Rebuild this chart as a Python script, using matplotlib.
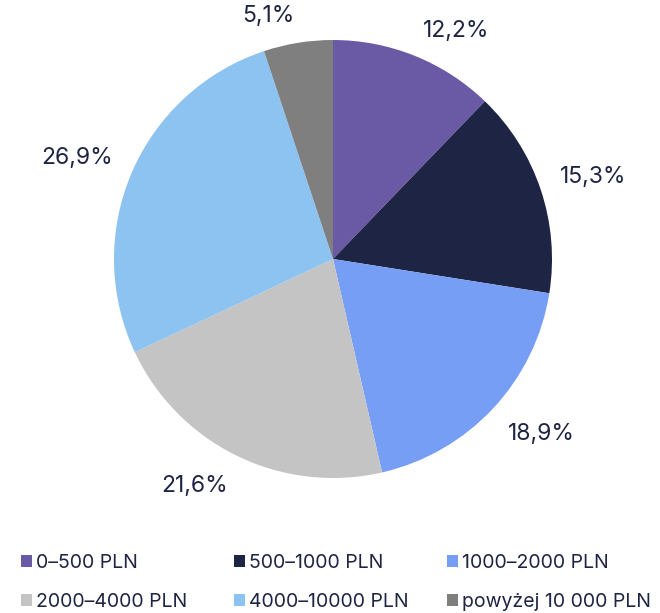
import numpy as np
import matplotlib.pyplot as plt
from matplotlib.patches import Patch

labels = ["0–500 PLN", "500–1000 PLN", "1000–2000 PLN", "2000–4000 PLN", "4000–10000 PLN", "powyżej 10 000 PLN"]
values = [12.2, 15.3, 18.9, 21.6, 26.9, 5.1]
value_labels = ["12,2%", "15,3%", "18,9%", "21,6%", "26,9%", "5,1%"]
colors = ["#6A5AA6", "#1E2443", "#779EF5", "#C4C4C4", "#8CC3F0", "#7F7F7F"]
text_color = "#1E2443"

plt.rcParams['font.family'] = ['Inter', 'DejaVu Sans']

fig = plt.figure(figsize=(6.6, 6.13), dpi=100)
cx, cy, r = 333 / 660, (613 - 259) / 613, 219
w = 2 * r / 660
h = 2 * r / 613
ax = fig.add_axes([cx - w / 2, cy - h / 2, w, h])
wedges, _ = ax.pie(values, colors=colors, startangle=90, counterclock=False,
                   wedgeprops=dict(linewidth=0))
ax.set_xlim(-1, 1)
ax.set_ylim(-1, 1)
ax.set_aspect('equal')
ax.axis('off')

# labels: nearest corner of the label box sits just outside the wedge's mid-angle
for wdg, txt in zip(wedges, value_labels):
    mid = np.deg2rad((wdg.theta1 + wdg.theta2) / 2)
    c, s = np.cos(mid), np.sin(mid)
    d = 1.095
    ax.text(d * c, d * s, txt, color=text_color, fontsize=16.5,
            ha='left' if c >= 0 else 'right',
            va='baseline' if s >= 0 else 'top')

# legend: 3 columns, 2 rows (row-major)
handles = [Patch(facecolor=col, edgecolor='none') for col in colors]
col_x = [21 / 660, 234 / 660, 447 / 660]
for k in range(3):
    idx = [k, k + 3]
    lg = fig.legend([handles[i] for i in idx], [labels[i] for i in idx],
                    loc='center left', bbox_to_anchor=(col_x[k], (613 - 582.5) / 613),
                    frameon=False, fontsize=14, handlelength=0.57, handleheight=0.57,
                    handletextpad=0.2, labelspacing=1.05, borderpad=0, borderaxespad=0,
                    labelcolor=text_color)

fig.savefig("out.png", dpi=100)
